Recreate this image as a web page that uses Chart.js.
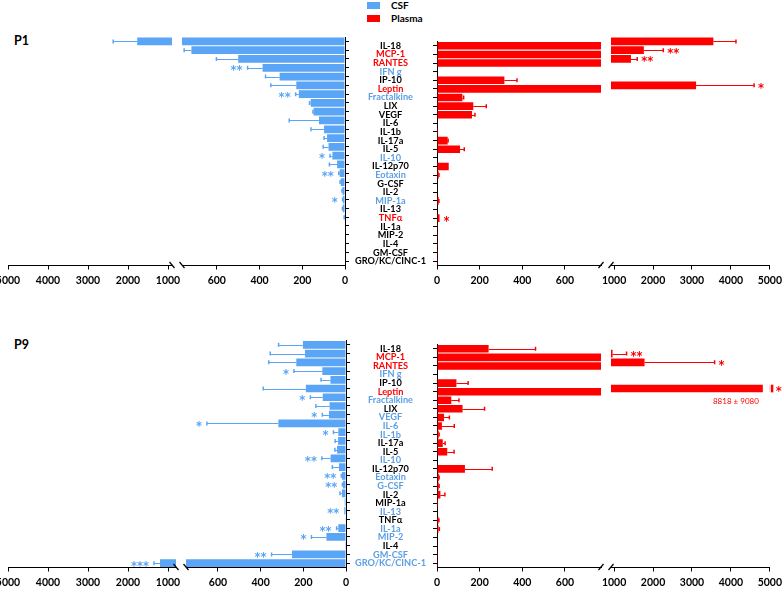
<!DOCTYPE html>
<html>
<head>
<meta charset="utf-8">
<script src="https://cdn.jsdelivr.net/npm/chart.js@4.4.1/dist/chart.umd.min.js"></script>
<style>
  html, body { margin: 0; padding: 0; background: #fff; }
  body { width: 784px; height: 592px; position: relative; overflow: hidden; font-family: Lato, "Open Sans", sans-serif; }
  canvas { position: absolute; }
  .panel { position: absolute; font-weight: bold; font-size: 12.5px; line-height: 14px; }
  .swatch { position: absolute; left: 367px; width: 13px; height: 7px; }
  .legtext { position: absolute; left: 391px; font-weight: bold; font-size: 10px; line-height: 10px; }
</style>
</head>
<body>
<div class="swatch" style="top:2px;background:#5aa5f6"></div>
<div class="legtext" style="top:0px">CSF</div>
<div class="swatch" style="top:15px;background:#ff0000"></div>
<div class="legtext" style="top:13px">Plasma</div>
<div class="panel" style="left:14px;top:34px">P1</div>
<div class="panel" style="left:14px;top:338px">P9</div>
<script>
// cytokines, same order in both panels
const cytokines = ['IL-18', 'MCP-1', 'RANTES', 'IFN g', 'IP-10', 'Leptin', 'Fractalkine', 'LIX', 'VEGF', 'IL-6',
  'IL-1b', 'IL-17a', 'IL-5', 'IL-10', 'IL-12p70', 'Eotaxin', 'G-CSF', 'IL-2', 'MIP-1a', 'IL-13',
  'TNFα', 'IL-1a', 'MIP-2', 'IL-4', 'GM-CSF', 'GRO/KC/CINC-1'];

// label colour: k = none, b = CSF change, r = plasma change
const labelKindP1 = ['k', 'r', 'r', 'b', 'k', 'r', 'b', 'k', 'k', 'k', 'k', 'k', 'k', 'b', 'k', 'b', 'k', 'k', 'b', 'k', 'r', 'k', 'k', 'k', 'k', 'k'];
const labelKindP9 = ['k', 'r', 'r', 'b', 'k', 'r', 'b', 'k', 'b', 'b', 'b', 'k', 'k', 'b', 'k', 'b', 'b', 'k', 'k', 'b', 'k', 'b', 'b', 'k', 'b', 'b'];

// P1
const csfP1 = [1770, 719, 500, 386, 306, 228, 216, 161, 147, 122, 98, 84, 77, 59, 37, 25, 20, 12, 9, 10, 3, 0, 0, 0, 0, 0];
const csfErrP1 = [600, 34, 102, 70, 66, 119, 15, 5, 3, 139, 61, 14, 25, 11, 36, 4, 3, 2, 2, 2, 1, 0, 0, 0, 0, 0];
const csfStarsP1 = ['', '', '', '**', '', '', '**', '', '', '', '', '', '', '*', '', '**', '', '', '*', '', '', '', '', '', '', ''];
const plasmaP1 = [3550, 1764, 1433, 0, 316, 3106, 119, 170, 164, 3, 5, 50, 108, 0, 55, 8, 3, 3, 8, 3, 12, 1, 1, 1, 1, 1];
const plasmaErrP1 = [580, 500, 160, 0, 59, 1490, 6, 61, 14, 0, 0, 2, 20, 0, 0, 1, 0, 0, 1, 0, 0, 0, 0, 0, 0, 0];
const plasmaStarsP1 = ['', '**', '**', '', '', '*', '', '', '', '', '', '', '', '', '', '', '', '', '', '', '*', '', '', '', '', ''];

// P9
const csfP9 = [202, 192, 233, 111, 73, 188, 109, 77, 80, 317, 36, 37, 42, 72, 33, 19, 14, 19, 6, 8, 3, 36, 92, 4, 253, 1200];
const csfErrP9 = [114, 163, 129, 133, 44, 200, 58, 64, 31, 335, 23, 14, 10, 41, 31, 3, 3, 9, 0, 0, 0, 8, 70, 0, 96, 150];
const csfStarsP9 = ['', '', '', '*', '', '', '*', '', '*', '*', '*', '', '', '**', '', '**', '**', '', '', '**', '', '**', '*', '', '**', '***'];
const plasmaP9 = [242, 960, 1782, 0, 91, 8818, 67, 120, 33, 23, 8, 27, 48, 0, 131, 9, 8, 16, 5, 3, 7, 7, 2, 2, 1, 1];
const plasmaErrP9 = [220, 360, 1800, 0, 55, 9080, 36, 103, 25, 58, 2, 11, 32, 0, 128, 1, 2, 21, 0, 0, 2, 4, 0, 0, 0, 0];
const plasmaStarsP9 = ['', '**', '*', '', '', '*', '', '', '', '', '', '', '', '', '', '', '', '', '', '', '', '', '', '', '', ''];

const nearTicks = [0, 200, 400, 600];
const farTicks = [1000, 2000, 3000, 4000, 5000];

const BLUE = '#5aa5f6';
const RED = '#ff0000';
const labelColor = { k: '#000000', r: RED, b: '#5c9fe6' };
const STAR_FONT = 'bold 11.5px "DejaVu Sans"';

Chart.defaults.font.family = 'Lato, "Open Sans", sans-serif';

// error bars, stars and the cut bar that runs off the axis
const errorBars = {
  id: 'errorBars',
  afterDatasetsDraw(chart, args, opts) {
    const { ctx, chartArea: a } = chart;
    const x = chart.scales.x;
    const ds = chart.data.datasets[0];
    const meta = chart.getDatasetMeta(0);
    const dir = x.options.reverse ? -1 : 1;
    ctx.save();
    ctx.strokeStyle = ds.backgroundColor;
    ctx.fillStyle = ds.backgroundColor;
    ds.data.forEach((v, i) => {
      const y = meta.data[i].y;
      const e = ds.errors[i];
      const end = v + e;
      const xe = x.getPixelForValue(end);
      if (e > 0) {
        ctx.save();
        ctx.beginPath();
        ctx.rect(a.left, a.top, a.right - a.left, a.bottom - a.top);
        ctx.clip();
        ctx.lineWidth = 1;
        ctx.beginPath();
        ctx.moveTo(x.getPixelForValue(v), Math.round(y) + 0.5);
        ctx.lineTo(xe, Math.round(y) + 0.5);
        ctx.stroke();
        ctx.lineWidth = 1.5;
        ctx.beginPath();
        ctx.moveTo(xe, y - 2);
        ctx.lineTo(xe, y + 2);
        ctx.stroke();
        ctx.restore();
      }
      ctx.font = STAR_FONT;
      ctx.textBaseline = 'alphabetic';
      if (opts.overflow && v > x.max) {
        const bh = meta.data[i].height;
        ctx.fillStyle = '#ffffff';
        ctx.fillRect(a.right - 7, y - bh / 2 - 1, 7, bh + 2);
        ctx.fillStyle = ds.backgroundColor;
        ctx.fillRect(a.right + 1, y - bh / 2, 2.5, bh);
        if (ds.stars[i]) {
          ctx.textAlign = 'left';
          ctx.fillText(ds.stars[i], a.right + 6, y + 6.5);
        }
        ctx.font = '8px Lato';
        ctx.textAlign = 'right';
        ctx.fillText(v + ' \u00b1 ' + e, a.right - 11, y + 15);
        return;
      }
      if (ds.stars[i] && end >= x.min && end <= x.max) {
        if (dir < 0) {
          ctx.textAlign = 'right';
          ctx.fillText(ds.stars[i], xe - 5, y + 6.5);
        } else {
          ctx.textAlign = 'left';
          ctx.fillText(ds.stars[i], xe + 4, y + 6.5);
        }
      }
    });
    ctx.restore();
  }
};

// the // marks where the axis is cut
const breakMarks = {
  id: 'breakMarks',
  afterDraw(chart, args, o) {
    if (!o.side) return;
    const { ctx, chartArea: a } = chart;
    const x = o.side === 'left' ? a.left : a.right;
    const y = a.bottom;
    ctx.save();
    ctx.strokeStyle = '#000';
    ctx.lineWidth = 1.2;
    ctx.beginPath();
    if (o.slant === 'back') {
      ctx.moveTo(x - 2.5, y - 3.5);
      ctx.lineTo(x + 2.5, y + 2.5);
    } else {
      ctx.moveTo(x - 2.5, y + 2.5);
      ctx.lineTo(x + 2.5, y - 3.5);
    }
    ctx.stroke();
    ctx.restore();
  }
};

function segment(o) {
  const padL = 16, padR = 16, padT = 8, axisH = 24;
  const leftW = o.labels ? 91 : 0;
  const rightW = o.yRight ? 5 : 0;
  const cLeft = o.x0 - padL - leftW;
  const cTop = Math.floor(o.top) - padT;
  const w = padL + leftW + (o.x1 - o.x0) + rightW + padR;
  const h = Math.ceil(o.bottom - cTop + axisH + 4);

  const canvas = document.createElement('canvas');
  canvas.width = w;
  canvas.height = h;
  canvas.style.left = cLeft + 'px';
  canvas.style.top = cTop + 'px';
  document.body.appendChild(canvas);

  let y;
  if (o.labels) {
    y = {
      position: 'left',
      grid: { drawOnChartArea: false, offset: false, tickLength: 4, color: '#000' },
      border: { color: '#000' },
      ticks: {
        autoSkip: false,
        crossAlign: 'center',
        padding: 7,
        font: { weight: 'bold', size: 9.2 },
        color: (c) => labelColor[o.labels[c.index]]
      },
      afterFit: (s) => { s.width = leftW; }
    };
  } else if (o.yRight) {
    y = {
      position: 'right',
      grid: { drawOnChartArea: false, offset: false, tickLength: 4, color: '#000' },
      border: { color: '#000' },
      ticks: { display: false },
      afterFit: (s) => { s.width = rightW; }
    };
  } else {
    y = { display: false };
  }

  return new Chart(canvas, {
    type: 'bar',
    data: {
      labels: cytokines,
      datasets: [{
        data: o.values,
        errors: o.errors,
        stars: o.stars,
        backgroundColor: o.color,
        barPercentage: 0.88,
        categoryPercentage: 1,
        clip: 0
      }]
    },
    options: {
      indexAxis: 'y',
      responsive: false,
      animation: false,
      devicePixelRatio: 1,
      layout: { padding: { left: padL, right: padR, top: o.top - cTop, bottom: h - (o.bottom - cTop) - axisH } },
      plugins: {
        legend: { display: false },
        tooltip: { enabled: false },
        errorBars: { overflow: !!o.overflow },
        breakMarks: { side: o.breakSide, slant: o.slant }
      },
      scales: {
        x: {
          type: 'linear',
          min: o.min,
          max: o.max,
          reverse: !!o.reverse,
          grid: { drawOnChartArea: false, tickLength: 4, color: '#000' },
          border: { color: '#000' },
          ticks: {
            autoSkip: false,
            maxRotation: 0,
            padding: 5,
            color: '#000',
            font: { weight: 'bold', size: 10.5 },
            callback: (v) => String(v)
          },
          afterBuildTicks: (s) => { s.ticks = o.ticks.map((v) => ({ value: v })); },
          afterFit: (s) => { s.height = axisH; }
        },
        y: y
      }
    },
    plugins: [errorBars, breakMarks]
  });
}

const rows = [
  { top: 37, bottom: 265.5, far: [8, 172, 900], near: [182, 345, 763],
    csf: csfP1, csfErr: csfErrP1, csfStars: csfStarsP1,
    plasma: plasmaP1, plasmaErr: plasmaErrP1, plasmaStars: plasmaStarsP1, kinds: labelKindP1 },
  { top: 340.5, bottom: 567.5, far: [8, 176, 800], near: [186, 346, 750],
    csf: csfP9, csfErr: csfErrP9, csfStars: csfStarsP9,
    plasma: plasmaP9, plasmaErr: plasmaErrP9, plasmaStars: plasmaStarsP9, kinds: labelKindP9 }
];

rows.forEach((r) => {
  const base = { top: r.top, bottom: r.bottom };
  segment({ ...base, x0: r.far[0], x1: r.far[1], min: r.far[2], max: 5000, reverse: true, ticks: farTicks,
    values: r.csf, errors: r.csfErr, stars: r.csfStars, color: BLUE, breakSide: 'right', slant: 'back' });
  segment({ ...base, x0: r.near[0], x1: r.near[1], min: 0, max: r.near[2], reverse: true, ticks: nearTicks,
    values: r.csf, errors: r.csfErr, stars: r.csfStars, color: BLUE, yRight: true, breakSide: 'left', slant: 'back' });
  segment({ ...base, x0: 437, x1: 601, min: 0, max: 769, ticks: nearTicks, labels: r.kinds,
    values: r.plasma, errors: r.plasmaErr, stars: r.plasmaStars, color: RED, breakSide: 'right', slant: 'fwd' });
  segment({ ...base, x0: 611, x1: 771, min: 920, max: 5000, ticks: farTicks, overflow: true,
    values: r.plasma, errors: r.plasmaErr, stars: r.plasmaStars, color: RED, breakSide: 'left', slant: 'fwd' });
});
</script>
</body>
</html>
